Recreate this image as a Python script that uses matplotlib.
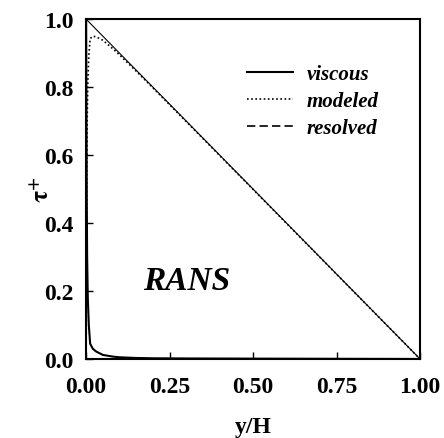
import matplotlib
matplotlib.use("Agg")
import matplotlib.pyplot as plt

y_h = [0, 0.001, 0.002, 0.003, 0.005, 0.008, 0.012, 0.02, 0.03, 0.05, 0.08, 0.1, 0.15, 0.2, 0.3, 0.5, 0.75, 1.0]
viscous = [1.0, 0.7, 0.45, 0.3, 0.18, 0.1, 0.045, 0.03, 0.022, 0.012, 0.007, 0.005, 0.003, 0.002, 0.0015, 0.001, 0.0005, 0.0]
modeled = [0.0, 0.299, 0.548, 0.697, 0.815, 0.892, 0.943, 0.95, 0.948, 0.938, 0.913, 0.895, 0.847, 0.798, 0.6985, 0.499, 0.2495, 0.0]
resolved = [0.0] * len(y_h)
total_x = [0.0, 1.0]
total_y = [1.0, 0.0]

xticks = [0.0, 0.25, 0.5, 0.75, 1.0]
yticks = [0.0, 0.2, 0.4, 0.6, 0.8, 1.0]

plt.rcParams['font.family'] = ['Liberation Serif', 'DejaVu Serif']
plt.rcParams['mathtext.fontset'] = 'stix'

fig = plt.figure(figsize=(4.44, 4.39), dpi=100)
ax = fig.add_axes([0.194, 0.180, 0.752, 0.774])

ax.plot(total_x, total_y, color='black', lw=0.8)
ax.plot(y_h, viscous, color='black', lw=1.5, ls='-', label='viscous')
ax.plot(y_h, modeled, color='black', lw=1.2, ls=(0, (1, 1.5)), label='modeled')
ax.plot(y_h, resolved, color='black', lw=1.2, ls=(0, (5, 2.5)), label='resolved')

ax.set_xlim(0, 1)
ax.set_ylim(0, 1)
ax.set_xticks(xticks)
ax.set_xticklabels([f"{v:.2f}" for v in xticks])
ax.set_yticks(yticks)
ax.set_yticklabels([f"{v:.1f}" for v in yticks])
ax.tick_params(direction='in', length=5, width=1, labelsize=17)
ax.tick_params(axis='x', pad=12)
ax.tick_params(axis='y', pad=9)
for lab in ax.get_xticklabels() + ax.get_yticklabels():
    lab.set_fontweight('bold')
for s in ax.spines.values():
    s.set_linewidth(1.5)

ax.set_xlabel('y/H', fontsize=17, fontweight='bold', labelpad=14)
ax.set_ylabel(r'$\mathbf{\tau}^{\mathbf{+}}$', fontsize=18)
ax.yaxis.set_label_coords(-0.095, 0.5)

leg = ax.legend(loc='upper left', bbox_to_anchor=(0.482, 0.868), frameon=False,
                prop={'style': 'italic', 'weight': 'bold', 'size': 15},
                borderpad=0, borderaxespad=0,
                handlelength=2.2, handletextpad=0.67, labelspacing=0.33)

ax.text(0.302, 0.23, 'RANS', fontsize=24, fontweight='bold', style='italic',
        ha='center', va='center', transform=ax.transData)

fig.savefig('out.png', dpi=100)
